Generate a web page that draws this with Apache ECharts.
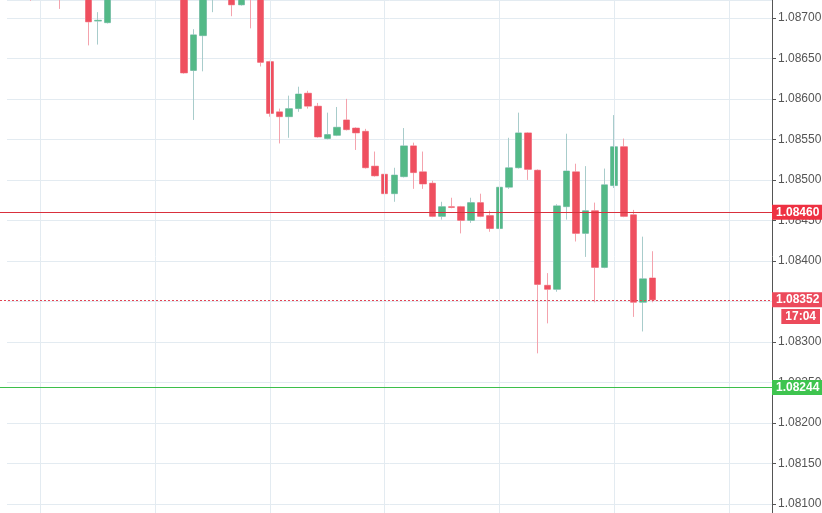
<!DOCTYPE html>
<html>
<head>
<meta charset="utf-8">
<script src="https://cdn.jsdelivr.net/npm/echarts@6/dist/echarts.min.js"></script>
<style>
  html, body { margin: 0; padding: 0; background: #fff; }
  #chart { width: 822px; height: 513px; }
</style>
</head>
<body>
<div id="chart"></div>
<script>
// candles, oldest first (first six are mostly above the visible range)
const opens = [1.0876, 1.0874, 1.0876, 1.0875, 1.0873, 1.0874,
  1.08735, 1.08696, 1.08694, 1.0873, 1.0875, 1.0877, 1.0876, 1.0878, 1.0877, 1.0876,
  1.0874, 1.08635, 1.08678, 1.0873, 1.08745, 1.08728, 1.08716, 1.08735, 1.0874, 1.08646,
  1.08584, 1.08578, 1.08588, 1.08607, 1.08591, 1.08551, 1.08555, 1.08574, 1.08564, 1.0856,
  1.08517, 1.08507, 1.08483, 1.08504, 1.08542, 1.0851, 1.08496, 1.08455, 1.08467, 1.08467,
  1.0845, 1.08472, 1.08456, 1.0844, 1.08491, 1.08515, 1.08558, 1.08512, 1.0837, 1.08365,
  1.08467, 1.0851, 1.08434, 1.08462, 1.08392, 1.08493, 1.08541, 1.08457, 1.08349, 1.08379];
const closes = [1.0874, 1.0876, 1.0875, 1.0873, 1.0874, 1.08735,
  1.08695, 1.08697, 1.0873, 1.0875, 1.0877, 1.0876, 1.0878, 1.0877, 1.0876, 1.0874,
  1.08632, 1.08679, 1.08735, 1.08745, 1.08735, 1.08716, 1.08725, 1.08725, 1.08645, 1.08582,
  1.08578, 1.08588, 1.08606, 1.08591, 1.08553, 1.08556, 1.08565, 1.08562, 1.08558, 1.08515,
  1.08505, 1.08483, 1.08506, 1.08542, 1.08509, 1.08495, 1.08455, 1.08467, 1.08466, 1.0845,
  1.08472, 1.08455, 1.0844, 1.08491, 1.08515, 1.08558, 1.08513, 1.08371, 1.08365, 1.08468,
  1.08511, 1.08434, 1.08462, 1.08392, 1.08494, 1.08541, 1.08455, 1.08349, 1.08378, 1.08352];
const lows = [1.08721, 1.0873, 1.0874, 1.08711, 1.08725, 1.08725,
  1.08666, 1.08667, 1.08693, 1.08725, 1.0874, 1.0875, 1.0875, 1.0876, 1.08745, 1.0873,
  1.08631, 1.08574, 1.08634, 1.08707, 1.08725, 1.08702, 1.08715, 1.08687, 1.0864, 1.08578,
  1.08545, 1.08552, 1.08584, 1.08588, 1.08552, 1.0855, 1.08554, 1.08561, 1.08537, 1.08514,
  1.08504, 1.08472, 1.08473, 1.08503, 1.08489, 1.08489, 1.08454, 1.08451, 1.08465, 1.08434,
  1.08447, 1.08454, 1.08436, 1.08439, 1.08489, 1.08514, 1.085, 1.08286, 1.08323, 1.08362,
  1.08451, 1.08424, 1.08405, 1.08349, 1.08391, 1.0849, 1.08454, 1.08331, 1.08313, 1.08349];
const highs = [1.0878, 1.0878, 1.0877, 1.0876, 1.0875, 1.0876,
  1.0875, 1.08707, 1.08745, 1.0876, 1.0878, 1.0879, 1.088, 1.0879, 1.0878, 1.0877,
  1.0875, 1.08686, 1.08745, 1.08755, 1.0876, 1.08735, 1.08732, 1.08735, 1.08745, 1.08647,
  1.08588, 1.08604, 1.08615, 1.0861, 1.08595, 1.08583, 1.0859, 1.086, 1.08565, 1.08563,
  1.08535, 1.0851, 1.08515, 1.08564, 1.08546, 1.08535, 1.08499, 1.08473, 1.08478, 1.08468,
  1.08478, 1.08483, 1.08462, 1.08498, 1.08552, 1.08583, 1.08559, 1.08513, 1.08385, 1.0847,
  1.08557, 1.0852, 1.08517, 1.08472, 1.08514, 1.0858, 1.08551, 1.08463, 1.0843, 1.08412];

const padBefore = 2;   // empty slots left of the first candle
const padAfter = 12;   // empty slots right of the last candle
const gridEvery = 12;  // vertical grid line every n slots
const askLine = 1.0846;
const bidLine = 1.08244;
const lastPrice = 1.08352;
const timer = "17:04";

const RED = "#ef4f5f";
const GREEN = "#53b987";
const GRID_RIGHT = 50;

const nSlots = padBefore + opens.length + padAfter;
const cats = [];
for (let i = 0; i < nSlots; i++) cats.push("s" + i);

const full = [];
const bodies = [];
for (let i = 0; i < padBefore; i++) { full.push("-"); bodies.push("-"); }
opens.forEach((o, i) => {
  const c = closes[i];
  full.push([o, c, lows[i], highs[i]]);
  bodies.push([o, c, Math.min(o, c), Math.max(o, c)]);
});

// vertical grid lines on candle centres
const vLines = [];
for (let i = 3; i < nSlots; i += gridEvery) vLines.push({ xAxis: "s" + i });

const chart = echarts.init(document.getElementById("chart"));
chart.setOption({
  animation: false,
  grid: { left: 7, right: GRID_RIGHT, top: 0, bottom: 0, outerBoundsMode: "none" },
  xAxis: {
    type: "category",
    data: cats,
    boundaryGap: true,
    axisLine: { show: false },
    axisTick: { show: false },
    axisLabel: { show: false },
    splitLine: { show: false },
  },
  yAxis: {
    type: "value",
    position: "right",
    min: 1.08089,
    max: 1.08722,
    splitNumber: 12,
    axisLine: { show: true, lineStyle: { color: "#555" } },
    axisTick: { show: true, length: 4, lineStyle: { color: "#555" } },
    axisLabel: {
      color: "#555",
      fontSize: 12,
      fontFamily: "Arial, Liberation Sans",
      margin: 6,
      showMinLabel: false,
      showMaxLabel: false,
      formatter: (v) => v.toFixed(5),
    },
    splitLine: { lineStyle: { color: "#e3ebf1" } },
  },
  series: [
    {
      // vertical grid lines
      type: "line",
      data: [],
      z: 1,
      markLine: {
        silent: true,
        symbol: "none",
        animation: false,
        label: { show: false },
        lineStyle: { color: "#e3ebf1", type: "solid", width: 1 },
        data: vLines,
      },
    },
    {
      type: "candlestick",
      data: full,
      barWidth: 7,
      z: 2,
      itemStyle: {
        color: "transparent", color0: "transparent",
        borderColor: "#a8cccb", borderColor0: "#f4a3ad",
        borderWidth: 1,
      },
    },
    {
      type: "candlestick",
      data: bodies,
      barWidth: 7,
      z: 3,
      itemStyle: {
        color: GREEN, color0: RED,
        borderColor: GREEN, borderColor0: RED,
        borderWidth: 0,
      },
    },
  ],
});

// price lines across the whole plot, placed through the y axis scale
const xRight = 822 - GRID_RIGHT;
function priceLine(v, color, type, bg) {
  const py = chart.convertToPixel({ yAxisIndex: 0 }, v);
  return [
    { x: 0, y: py, lineStyle: { color: color, type: type, width: 1 } },
    {
      x: xRight, y: py,
      label: {
        show: true, position: "end", distance: 0,
        formatter: v.toFixed(5), backgroundColor: bg, color: "#fff",
        fontWeight: "bold", fontSize: 12, fontFamily: "Arial, Liberation Sans",
        padding: [2, 4, 1, 4],
      },
    },
  ];
}
chart.setOption({
  series: [{}, {}, {}, {
    type: "line",
    data: [],
    z: 4,
    markLine: {
      silent: true,
      symbol: "none",
      animation: false,
      data: [
        priceLine(askLine, "#d9303c", "solid", "#ee3142"),
        priceLine(bidLine, "#3cbf4a", "solid", "#3ec44f"),
        priceLine(lastPrice, "#e24454", [2, 2], "#ec4a5b"),
      ],
    },
  }],
  graphic: [
    {
      type: "text",
      right: 2,
      top: 309,
      z: 10,
      style: {
        text: timer,
        fill: "#fff",
        font: "bold 12px Arial, Liberation Sans",
        backgroundColor: "#ec4a5b",
        padding: [2, 4, 1, 4],
      },
    },
  ],
});
</script>
</body>
</html>
